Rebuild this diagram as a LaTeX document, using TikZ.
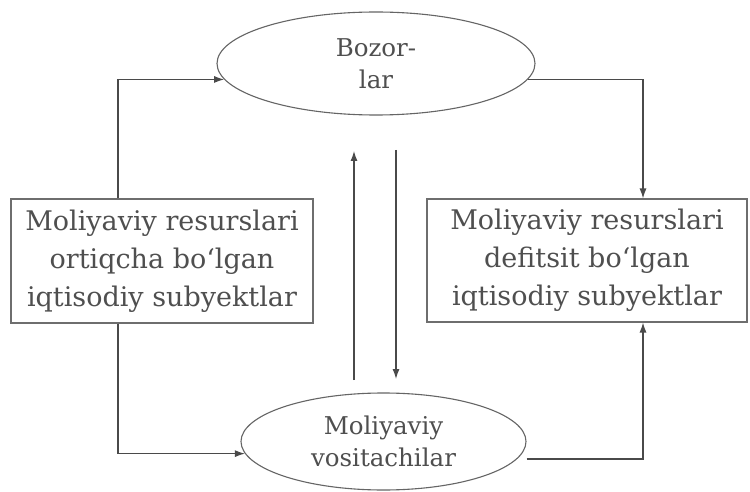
\documentclass[tikz,border=0pt]{standalone}
\usepackage{fontspec}
\setmainfont{DejaVu Serif}
\usetikzlibrary{shapes.geometric,arrows.meta}
\definecolor{ink}{HTML}{4A4A4A}
\definecolor{txt}{HTML}{4F4F4F}
\begin{document}
\begin{tikzpicture}[x=1pt,y=-1pt,
  conn/.style={draw=ink,line width=1.2pt},
  arr/.style={conn,-{Latex[length=10pt,width=7pt]}},
  oval/.style={ellipse,draw=ink!85,line width=1.1pt,inner sep=0pt,align=center,text=txt,font=\fontsize{24.5}{32}\selectfont},
  boxnode/.style={rectangle,draw=ink!80,line width=1.1pt,inner sep=0pt,align=center,text=txt,font=\fontsize{27}{38}\selectfont}]
\useasboundingbox (0,0) rectangle (750,492);
\fill[white] (0,0) rectangle (750,492);
\node[oval,minimum width=318pt,minimum height=103pt] (T) at (376,63.5) {Bozor-\\lar};
\node[oval,minimum width=285pt,minimum height=97pt] (B) at (383.5,441.5) {Moliyaviy\\vositachilar};
\node[boxnode,minimum width=302pt,minimum height=124pt] (L) at (162,261) {Moliyaviy resurslari\\ortiqcha bo{\char"2018}lgan\\iqtisodiy subyektlar};
\node[boxnode,minimum width=320pt,minimum height=123pt] (R) at (587,260.5) {Moliyaviy resurslari\\defitsit bo{\char"2018}lgan\\iqtisodiy subyektlar};
\coordinate (u1) at (354,380);
\coordinate (u2) at (354,151);
\coordinate (d1) at (396,150);
\coordinate (d2) at (396,379);
\draw[arr] ([xshift=-44pt]L.north) |- (T.186);
\draw[arr] (T.354) -| ([xshift=56pt]R.north);
\draw[arr] ([xshift=-44pt]L.south) |- (B.185.6);
\draw[arr] ([yshift=-17.5pt]B.east) -| ([xshift=56pt]R.south);
\draw[arr] (u1) -- (u2);
\draw[arr] (d1) -- (d2);
\end{tikzpicture}
\end{document}
